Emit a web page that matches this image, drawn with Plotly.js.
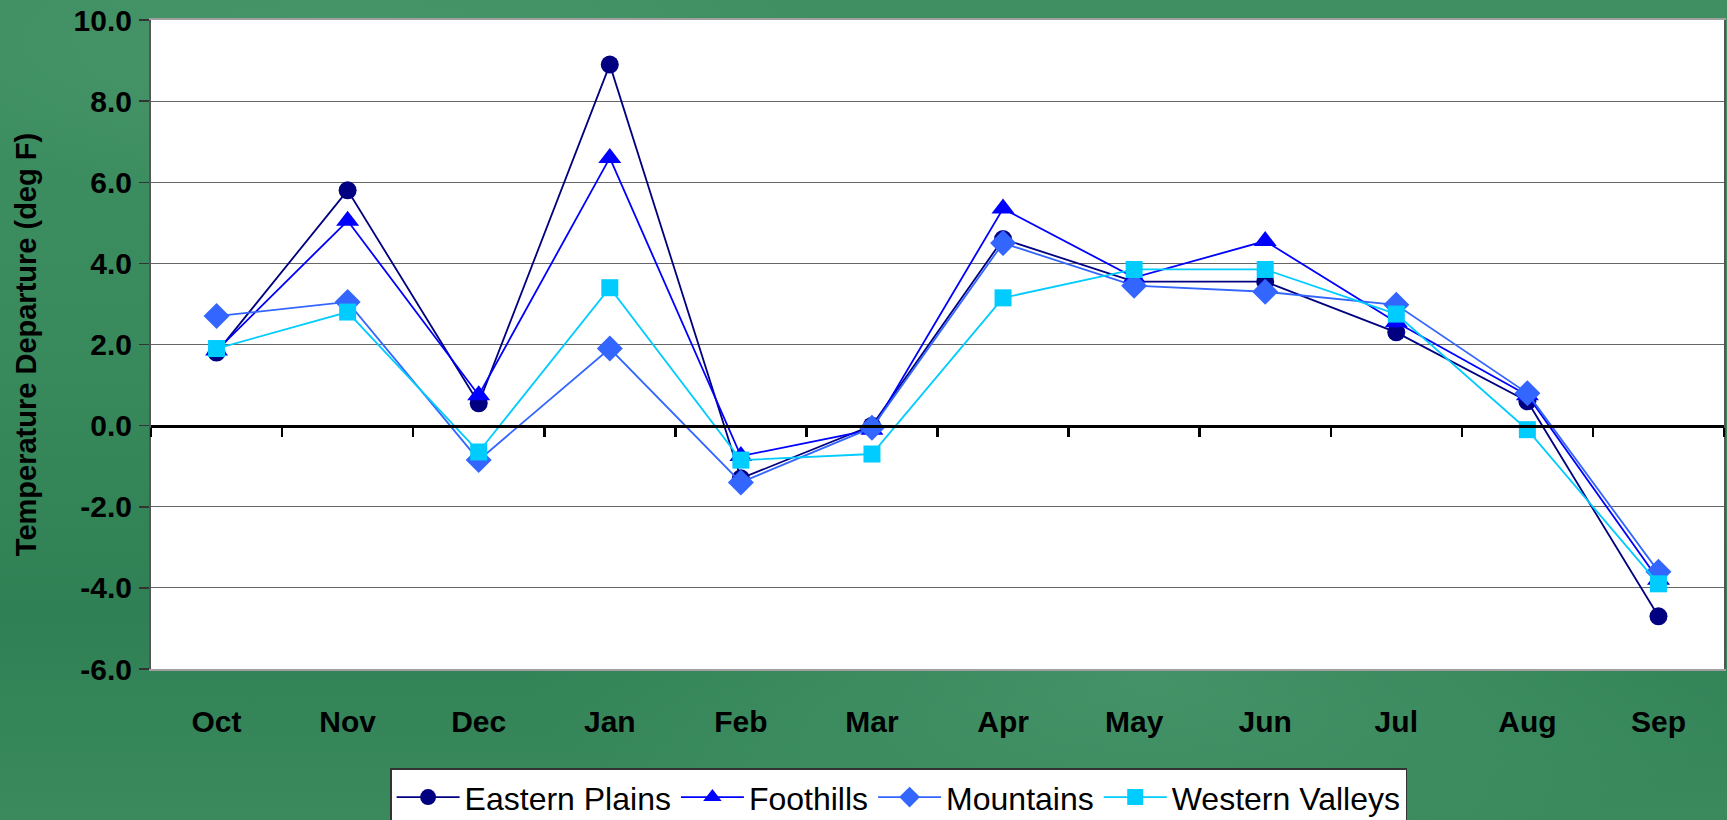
<!DOCTYPE html>
<html>
<head>
<meta charset="utf-8">
<script src="https://cdn.plot.ly/plotly-3.0.1.min.js"></script>
<style>
  html, body { margin: 0; padding: 0; width: 1727px; height: 820px; overflow: hidden; }
  body {
    background:
      radial-gradient(ellipse 900px 260px at 1150px 680px, rgba(120,190,150,0.25), rgba(120,190,150,0) 70%),
      radial-gradient(ellipse 700px 200px at 350px 60px, rgba(120,190,150,0.18), rgba(120,190,150,0) 70%),
      linear-gradient(180deg, #3f8f63 0%, #388a5c 45%, #2f8054 75%, #3a8a5e 100%);
  }
  #chart { width: 1727px; height: 820px; }
</style>
</head>
<body>
<div id="chart"></div>
<script>
const months = ['Oct','Nov','Dec','Jan','Feb','Mar','Apr','May','Jun','Jul','Aug','Sep'];
const easternPlains  = [1.8, 5.8, 0.55, 8.9, -1.3, 0.0, 4.6, 3.55, 3.55, 2.3, 0.6, -4.7];
const foothills      = [1.85, 5.05, 0.75, 6.6, -0.75, -0.1, 5.35, 3.65, 4.55, 2.55, 0.75, -3.8];
const mountains      = [2.7, 3.05, -0.85, 1.9, -1.4, -0.05, 4.5, 3.45, 3.3, 2.98, 0.8, -3.6];
const westernValleys = [1.9, 2.8, -0.65, 3.4, -0.85, -0.7, 3.15, 3.85, 3.85, 2.75, -0.1, -3.9];
const yTickVals = [-6, -4, -2, 0, 2, 4, 6, 8, 10];
const yTickText = ['-6.0', '-4.0', '-2.0', '0.0', '2.0', '4.0', '6.0', '8.0', '10.0'];

const FONT = 'Liberation Sans, Arial, Helvetica, sans-serif';

function series(name, y, color, symbol, size, lw) {
  return {
    type: 'scatter', mode: 'lines+markers', name: name,
    x: months, y: y,
    line: {color: color, width: lw},
    marker: {color: color, symbol: symbol, size: size, line: {width: 0}}
  };
}

const data = [
  {type: 'scatter', mode: 'lines', x: [], y: [], xaxis: 'x2', showlegend: false, hoverinfo: 'skip'},
  series('Eastern Plains', easternPlains, '#000080', 'circle', 18, 1.8),
  series('Foothills', foothills, '#0000FF', 'triangle-up', 20, 1.8),
  series('Mountains', mountains, '#3366FF', 'diamond', 20, 1.8),
  series('Western Valleys', westernValleys, '#00CCFF', 'square', 17, 1.8)
];

const layout = {
  width: 1727, height: 820,
  margin: {l: 151, r: 3, t: 20, b: 151, autoexpand: false},
  paper_bgcolor: 'rgba(0,0,0,0)',
  plot_bgcolor: '#ffffff',
  font: {family: FONT, color: '#000'},
  showlegend: true,
  legend: {
    orientation: 'h',
    x: 0.152, xanchor: 'left',
    y: -0.153, yanchor: 'top',
    bgcolor: '#ffffff', bordercolor: '#333333', borderwidth: 1.5,
    font: {family: FONT, size: 32, color: '#000'},
    itemwidth: 63,
    traceorder: 'normal'
  },
  xaxis: {
    type: 'category',
    range: [-0.5, 11.5],
    showgrid: false, zeroline: false,
    showline: true, linecolor: '#a0a0a0', linewidth: 2, mirror: true,
    ticks: '',
    ticklabelstandoff: 25,
    tickfont: {family: FONT, size: 30, weight: 'bold', color: '#000'}
  },
  xaxis2: {
    overlaying: 'x', anchor: 'free', position: 0.375,
    type: 'linear', range: [-0.5, 11.5],
    showgrid: false, zeroline: false,
    showline: true, linecolor: '#000', linewidth: 3.5,
    ticks: 'outside', ticklen: 9, tickwidth: 2.5, tickcolor: '#000',
    tick0: -0.5, dtick: 1,
    showticklabels: false
  },
  yaxis: {
    range: [-6, 10], tickmode: 'array', tickvals: yTickVals, ticktext: yTickText,
    showgrid: true, gridcolor: '#666666', gridwidth: 1.2,
    zeroline: false,
    showline: true, linecolor: '#555555', linewidth: 2, mirror: true,
    ticks: 'outside', ticklen: 10, tickwidth: 1.5, tickcolor: '#333',
    ticklabelstandoff: 1,
    tickfont: {family: FONT, size: 30, weight: 'bold', color: '#000'},
    title: {
      text: 'Temperature Departure (deg F)',
      font: {family: FONT, size: 29, weight: 'bold', color: '#000'},
      standoff: 28
    }
  }
};

Plotly.newPlot('chart', data, layout, {displayModeBar: false, staticPlot: true});
</script>
</body>
</html>
